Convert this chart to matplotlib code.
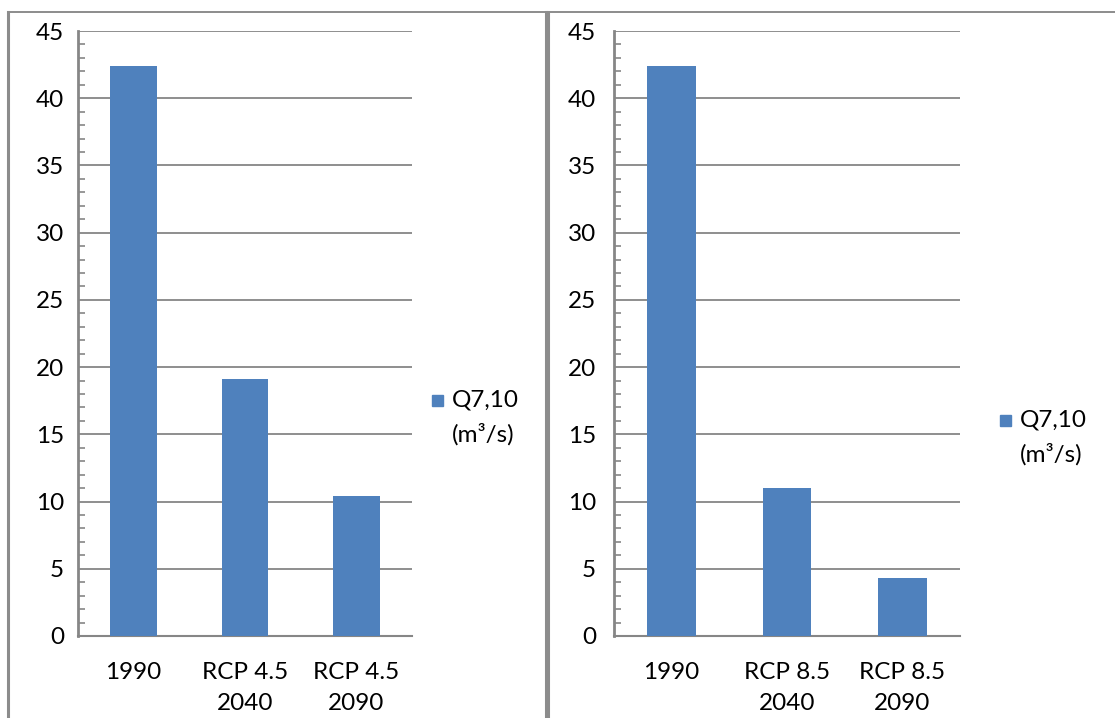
import matplotlib
matplotlib.use("Agg")
import matplotlib.pyplot as plt
from matplotlib.patches import Rectangle
from matplotlib.lines import Line2D
from matplotlib.ticker import MultipleLocator

plt.rcParams['font.family'] = ['Lato', 'DejaVu Sans']

categories_45 = ["1990", "RCP 4.5\n2040", "RCP 4.5\n2090"]
values_45 = [42.4, 19.1, 10.4]
categories_85 = ["1990", "RCP 8.5\n2040", "RCP 8.5\n2090"]
values_85 = [42.4, 11.0, 4.3]
series_label = "Q7,10"
unit_label = "(m³/s)"
y_ticks = [0, 5, 10, 15, 20, 25, 30, 35, 40, 45]

BAR = "#4F81BD"
GRID = "#868686"
FS = 17.5
W, H = 1115, 718

fig = plt.figure(figsize=(W / 100, H / 100), dpi=100)
fig.patch.set_facecolor("white")


def fx(px):
    return px / W


def fy(py):
    return 1 - py / H


# panel frames
for x0, x1 in [(8, 546), (548, 1125)]:
    fig.add_artist(Line2D([fx(x0), fx(x0)], [fy(12), fy(730)], color="#8C8C8C", lw=2.2,
                          transform=fig.transFigure))
    fig.add_artist(Line2D([fx(x0), fx(x1)], [fy(12), fy(12)], color="#8C8C8C", lw=1.4,
                          transform=fig.transFigure))
fig.add_artist(Line2D([fx(546), fx(546)], [fy(12), fy(730)], color="#8C8C8C", lw=2.2,
                      transform=fig.transFigure))


def panel(left, right, cats, vals, leg_x, leg_y, pad):
    ax = fig.add_axes([fx(left), fy(636), fx(right) - fx(left), fy(31) - fy(636)])
    x = range(len(cats))
    ax.bar(x, vals, width=0.42, color=BAR, zorder=3)
    ax.set_xlim(-0.5, len(cats) - 0.5)
    ax.set_ylim(0, 45)
    ax.set_yticks(y_ticks)
    ax.set_yticklabels([str(t) for t in y_ticks], fontsize=FS)
    ax.yaxis.set_minor_locator(MultipleLocator(1))
    ax.tick_params(axis="y", which="major", length=0, pad=pad)
    ax.tick_params(axis="y", which="minor", direction="in", length=5, width=1.2, color=GRID)
    ax.set_xticks(list(x))
    ax.set_xticklabels(cats, fontsize=FS, linespacing=1.55, va="top")
    ax.tick_params(axis="x", length=0, pad=19)
    ax.grid(axis="y", color=GRID, lw=1.3, zorder=1)
    for s in ["top", "right"]:
        ax.spines[s].set_visible(False)
    ax.spines["left"].set_color(GRID)
    ax.spines["left"].set_linewidth(2.0)
    ax.spines["bottom"].set_color(GRID)
    ax.spines["bottom"].set_linewidth(1.5)
    # legend entry
    fig.add_artist(Rectangle((fx(leg_x), fy(leg_y + 11)), fx(11), 11 / H, color=BAR,
                             transform=fig.transFigure))
    fig.text(fx(leg_x + 20), fy(leg_y + 5.5), series_label, fontsize=FS, va="center", ha="left")
    fig.text(fx(leg_x + 20), fy(leg_y + 39), unit_label, fontsize=FS, va="center", ha="left")
    return ax


panel(78, 412, categories_45, values_45, 432, 395, 10)
panel(614, 960, categories_85, values_85, 1000, 415, 13)

fig.savefig("out.png", dpi=100, facecolor="white")
